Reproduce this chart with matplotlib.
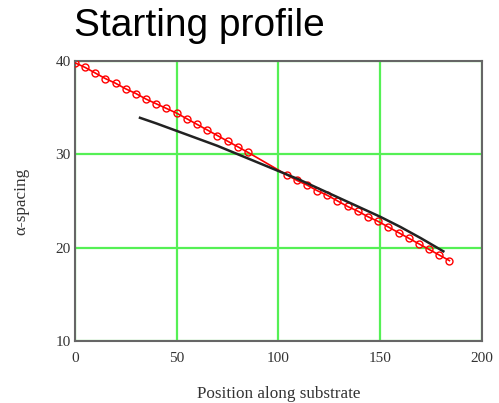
import matplotlib.pyplot as plt

# measured profile (red, with markers)
pos_meas = [0, 5, 10, 15, 20, 25, 30, 35, 40, 45, 50, 55, 60, 65, 70, 75, 80, 85,
            104, 109, 114, 119, 124, 129, 134, 139, 144, 149, 154, 159, 164, 169, 174, 179, 184]
d_meas = [39.8, 39.3, 38.7, 38.1, 37.6, 37.0, 36.5, 35.9, 35.4, 34.9, 34.4, 33.8, 33.2, 32.6,
          32.0, 31.4, 30.8, 30.2,
          27.8, 27.2, 26.7, 26.1, 25.6, 25.0, 24.4, 23.9, 23.3, 22.8, 22.2, 21.6, 21.0, 20.4,
          19.8, 19.2, 18.6]

# starting fit (black)
pos_fit = [32, 40, 50, 60, 70, 80, 90, 100, 110, 120, 130, 140, 150, 160, 170, 181]
d_fit = [33.9, 33.3, 32.5, 31.7, 30.9, 30.0, 29.1, 28.2, 27.3, 26.3, 25.3, 24.3, 23.3,
         22.2, 21.0, 19.6]

xticks = [0, 50, 100, 150, 200]
yticks = [10, 20, 30, 40]

fig = plt.figure(figsize=(4.99, 4.03), dpi=100)
ax = fig.add_axes([0.150, 0.154, 0.816, 0.695])

ax.plot(pos_meas, d_meas, color='red', lw=1.2, marker='o', ms=5,
        mfc='none', mec='red', mew=1.0, zorder=3)
ax.plot(pos_fit, d_fit, color='#222222', lw=1.8, zorder=4)

ax.set_xlim(0, 200)
ax.set_ylim(10, 40)
ax.set_xticks(xticks)
ax.set_yticks(yticks)
ax.grid(True, color='#55f055', lw=1.6)
ax.set_axisbelow(True)
for s in ax.spines.values():
    s.set_color('#666666')
    s.set_linewidth(1.5)
ax.tick_params(axis='x', length=0, pad=8)
ax.tick_params(axis='y', length=0, pad=3)
ax.tick_params(labelsize=11, labelcolor='#333333')
for lab in ax.get_xticklabels() + ax.get_yticklabels():
    lab.set_family('Liberation Serif')

ax.set_xlabel('Position along substrate', family='Liberation Serif', fontsize=12.3,
              color='#333333', labelpad=15)
ax.set_ylabel('α-spacing', family='Liberation Serif', fontsize=12.3,
              color='#333333', labelpad=19)

fig.text(0.148, 0.935, 'Starting profile', family='Liberation Sans', fontsize=28,
         va='center', ha='left')

fig.savefig('out.png', dpi=100)
